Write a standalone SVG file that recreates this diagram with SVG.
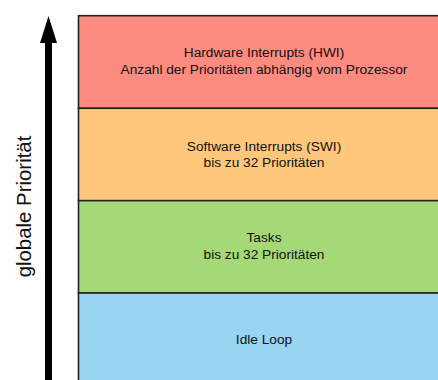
<svg xmlns="http://www.w3.org/2000/svg" width="438" height="380" viewBox="0 0 438 380">
  <style>
    .layer { stroke: #222; stroke-width: 1.6; }
    .label { font-family: "Liberation Sans", Arial, sans-serif; font-size: 13.7px; fill: #111; text-anchor: middle; }
    .axis { font-family: "Liberation Sans", Arial, sans-serif; font-size: 20.4px; fill: #111; text-anchor: middle; }
  </style>
  <rect width="438" height="380" fill="#ffffff"/>

  <!-- priority arrow -->
  <g id="connectors">
    <rect x="45" y="42" width="7" height="340" fill="#000"/>
    <polygon points="48.5,16 57,43 40,43" fill="#000"/>
  </g>
  <text class="axis" transform="translate(30.5,206.5) rotate(-90)">globale Priorität</text>

  <g id="hwi">
    <rect class="layer" x="78.5" y="15.7" width="372" height="92.6" fill="#fe8b80"/>
    <text class="label" x="264" y="57">Hardware Interrupts (HWI)</text>
    <text class="label" x="264" y="74">Anzahl der Prioritäten abhängig vom Prozessor</text>
  </g>

  <g id="swi">
    <rect class="layer" x="78.5" y="108.3" width="372" height="92.4" fill="#ffc77c"/>
    <text class="label" x="264" y="150.5">Software Interrupts (SWI)</text>
    <text class="label" x="264" y="166.5">bis zu 32 Prioritäten</text>
  </g>

  <g id="tasks">
    <rect class="layer" x="78.5" y="200.7" width="372" height="92.3" fill="#a5d977"/>
    <text class="label" x="264" y="242.3">Tasks</text>
    <text class="label" x="264" y="258.8">bis zu 32 Prioritäten</text>
  </g>

  <g id="idle">
    <rect class="layer" x="78.5" y="293" width="372" height="92.5" fill="#9bd3f3"/>
    <text class="label" x="264" y="343.5">Idle Loop</text>
  </g>
</svg>
